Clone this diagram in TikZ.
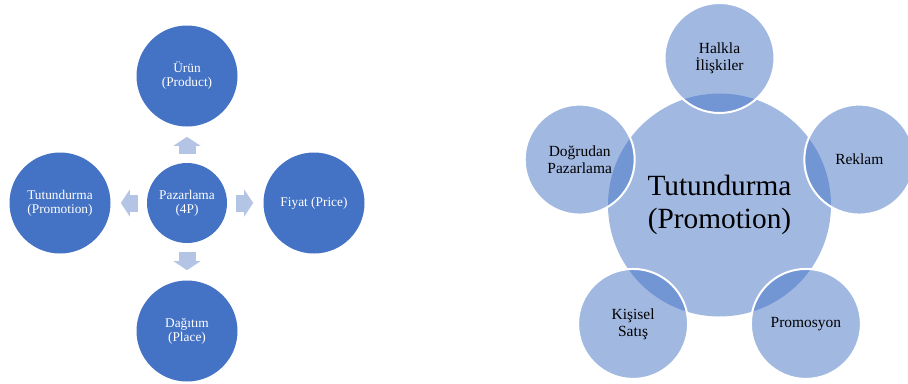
\documentclass[tikz,border=0pt]{standalone}
\usepackage{fontspec}
\setmainfont{Liberation Serif}
\usetikzlibrary{arrows.meta}
\definecolor{PBlue}{RGB}{68,114,196}
\definecolor{PArrow}{RGB}{180,196,228}

\begin{document}
\begin{tikzpicture}[x=0.75pt,y=0.75pt,
  dot/.style={circle,fill=PBlue,text=white,minimum size=75.75pt,inner sep=0pt,align=center,font=\fontsize{10}{10.5}\selectfont},
  hub/.style={dot,minimum size=60pt},
  arr/.style={-{Triangle[width=20.25pt,length=6.75pt,line width=0pt]},line width=12.75pt,draw=PArrow,shorten <=6.75pt,shorten >=7.5pt},
  big/.style={circle,fill=PBlue,fill opacity=0.5,text opacity=1,minimum size=167.25pt,inner sep=0pt,align=center,font=\fontsize{22}{24.25}\selectfont},
  sat/.style={circle,fill=PBlue,fill opacity=0.5,text opacity=1,draw=white,draw opacity=1,line width=1.5pt,minimum size=82.5pt,inner sep=0pt,align=center,font=\fontsize{11.6}{12.6}\selectfont}]
  \useasboundingbox (0,0) rectangle (908,-383);
  \node[hub] (pz) at (187,-203) {Pazarlama\\(4P)};
  \node[dot] (ur) at (187,-76) {Ürün\\(Product)};
  \node[dot] (fy) at (314,-203) {Fiyat (Price)};
  \node[dot] (tt) at (60,-203) {Tutundurma\\(Promotion)};
  \node[dot] (dg) at (187,-331) {Dağıtım\\(Place)};
  \draw[arr] (pz) -- (ur);
  \draw[arr] (pz) -- (fy);
  \draw[arr] (pz) -- (tt);
  \draw[arr] (pz) -- (dg);

  \node[big] (tp) at (719.5,-205) {Tutundurma\\(Promotion)};
  \node[sat] (hi) at ([shift={(90:147)}]tp.center) {Halkla\\İlişkiler};
  \node[sat] (rk) at ([shift={(18:147)}]tp.center) {Reklam};
  \node[sat] (pr) at ([shift={(-54:147)}]tp.center) {Promosyon};
  \node[sat] (ks) at ([shift={(-126:147)}]tp.center) {Kişisel\\Satış};
  \node[sat] (dp) at ([shift={(162:147)}]tp.center) {Doğrudan\\Pazarlama};
\end{tikzpicture}
\end{document}
